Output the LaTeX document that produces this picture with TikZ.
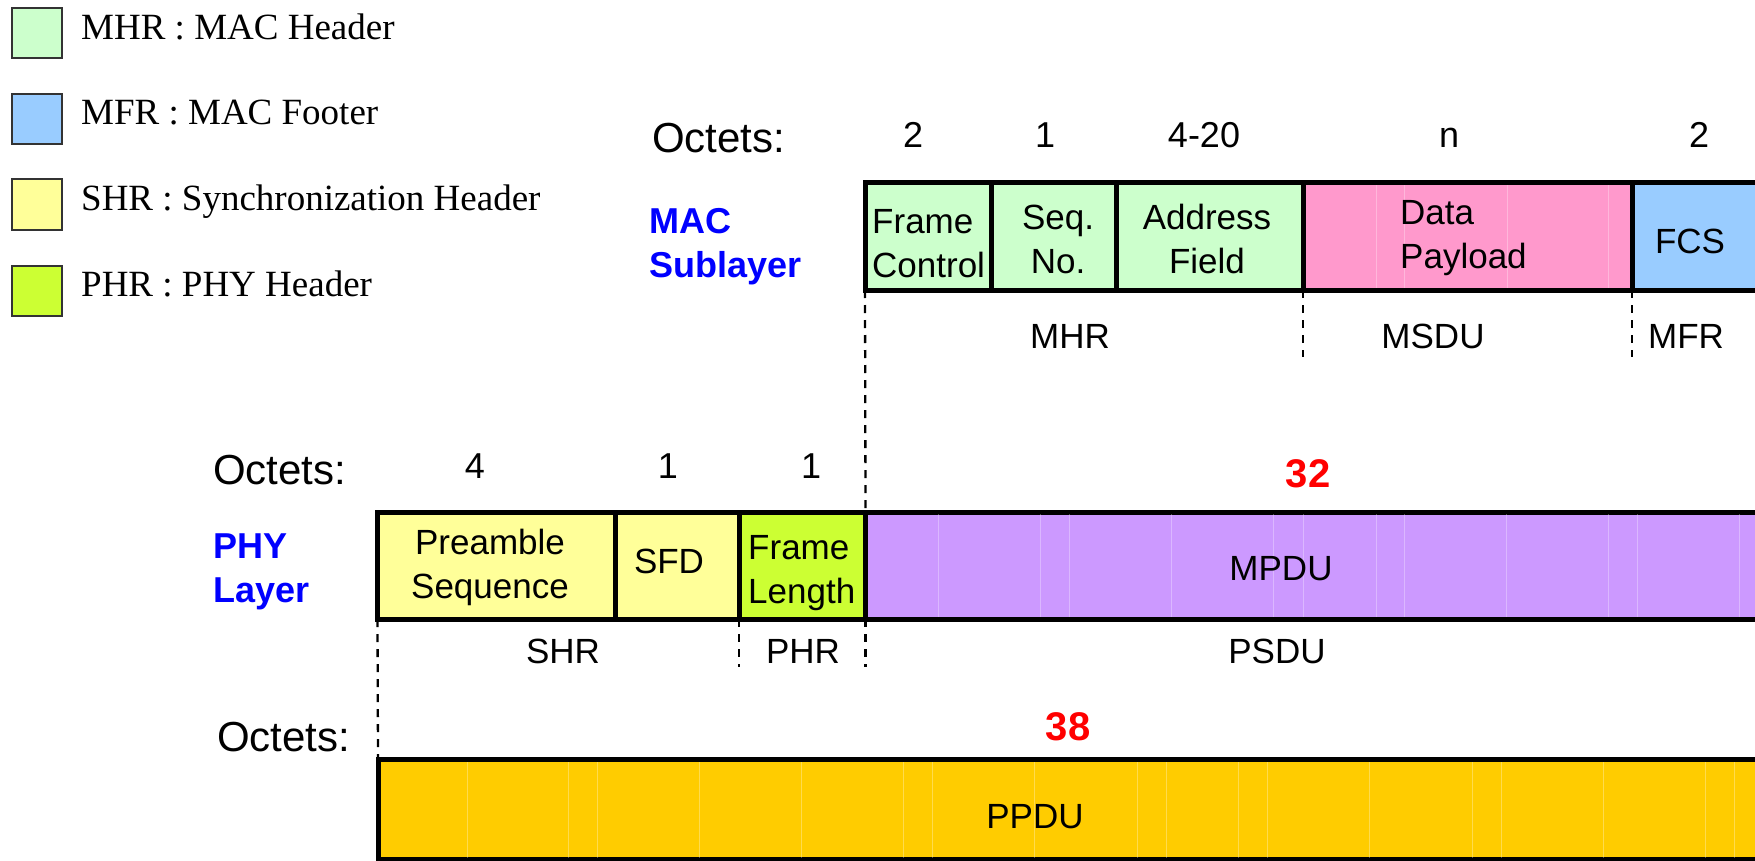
\documentclass[tikz,border=0pt]{standalone}
\usepackage{fontspec}
\setmainfont{Liberation Serif}
\newfontfamily\arial{Liberation Sans}
\definecolor{mhrC}{HTML}{CCFFCC}
\definecolor{mfrC}{HTML}{99CCFF}
\definecolor{shrC}{HTML}{FFFF99}
\definecolor{phrC}{HTML}{CCFF33}
\definecolor{payC}{HTML}{FF99CC}
\definecolor{mpduC}{HTML}{CC99FF}
\definecolor{ppduC}{HTML}{FFCC00}
\definecolor{layerC}{HTML}{0000FF}
\definecolor{sizeC}{HTML}{FF0000}
\begin{document}
\begin{tikzpicture}[x=1pt,y=-1pt,
  field/.style={draw=black, line width=5pt, inner sep=0pt, outer sep=0pt,
                anchor=north west, minimum height=107pt},
  legbox/.style={draw=black!80, line width=2pt, minimum size=50pt, inner sep=0pt},
  legtxt/.style={font=\fontsize{37}{44}\selectfont, anchor=base west, inner sep=0pt},
  txt/.style={font=\arial\fontsize{35}{44}\selectfont, inner sep=0pt, anchor=base, align=center},
  ltxt/.style={font=\arial\fontsize{35}{44}\selectfont, inner sep=0pt, anchor=base west, align=left},
  octlbl/.style={font=\arial\fontsize{42}{48}\selectfont, inner sep=0pt, anchor=base west},
  octnum/.style={font=\arial\fontsize{36}{44}\selectfont, inner sep=0pt, anchor=base},
  total/.style={font=\arial\bfseries\fontsize{40}{48}\selectfont, text=sizeC, inner sep=0pt, anchor=base},
  layer/.style={font=\arial\bfseries\fontsize{36}{44}\selectfont, text=layerC, inner sep=0pt,
                anchor=base west, align=left},
  cut/.style={draw=black, line width=2.3pt, dash pattern=on 8pt off 7pt},
  grain/.style={draw=white, line width=1pt, opacity=0.3}]

\useasboundingbox (0,0) rectangle (1755,861);
\clip (0,0) rectangle (1755,861);

% legend
\node[legbox, fill=mhrC] (lgA) at (37,33.5) {};
\node[legbox, fill=mfrC] (lgB) at (37,119) {};
\node[legbox, fill=shrC] (lgC) at (37,204.5) {};
\node[legbox, fill=phrC] (lgD) at (37,290.5) {};
\node[legtxt] (lgAt) at (81,39.3) {MHR : MAC Header};
\node[legtxt] (lgBt) at (81,125) {MFR : MAC Footer};
\node[legtxt] (lgCt) at (81,210.7) {SHR : Synchronization Header};
\node[legtxt] (lgDt) at (81,296.4) {PHR : PHY Header};

% MAC frame fields
\node[field, fill=mhrC, minimum width=126.5pt] (fc)   at (865,183)    {};
\node[field, fill=mhrC, minimum width=124.5pt] (seq)  at (991.5,183)  {};
\node[field, fill=mhrC, minimum width=187pt]   (addr) at (1116,183)   {};
\node[field, fill=payC, minimum width=329pt]   (pay)  at (1303,183)   {};
\node[field, fill=mfrC, minimum width=143pt]   (fcs)  at (1632,183)   {};

% PHY frame fields
\node[field, fill=shrC,  minimum width=237.5pt] (pre)  at (377.5,512) {};
\node[field, fill=shrC,  minimum width=124pt]   (sfd)  at (615,512)   {};
\node[field, fill=phrC,  minimum width=126.5pt] (flen) at (739,512)   {};
\node[field, fill=mpduC, minimum width=909.5pt] (mpdu) at (865.5,512) {};

% PPDU
\node[field, fill=ppduC, minimum width=1397pt, minimum height=100pt] (ppdu) at (378,759.5) {};

% faint grain of the fills
\begin{scope}
  \clip ([shift={(2.5,2.5)}]pay.north west) rectangle ([shift={(-2.5,-2.5)}]pay.south east);
  \foreach \x in {1376,1404,1507,1608} \draw[grain] (\x,183) -- (\x,290);
\end{scope}
\begin{scope}
  \clip ([shift={(2.5,2.5)}]mpdu.north west) rectangle ([shift={(-2.5,-2.5)}]mpdu.south east);
  \foreach \x in {938,1040,1069,1171,1273,1303,1376,1404,1506,1608,1637,1739}
    \draw[grain] (\x,512) -- (\x,619);
\end{scope}
\begin{scope}
  \clip ([shift={(2.5,2.5)}]ppdu.north west) rectangle ([shift={(-2.5,-2.5)}]ppdu.south east);
  \foreach \x in {467,568,597,699,801,903,932,1034,1137,1166,1238,1267,1369,1472,1501,1603,1705,1734}
    \draw[grain] (\x,759) -- (\x,860);
\end{scope}

% MAC field texts (anchored at the baseline of the last line)
\node[ltxt] (fcT)   at (872,277)  {Frame\\Control};
\node[txt]  (seqT)  at (1058,273) {Seq.\\No.};
\node[txt]  (addrT) at (1207,273) {Address\\Field};
\node[ltxt] (payT)  at (1400,268) {Data\\Payload};
\node[txt]  (fcsT)  at (1690,253) {FCS};

% PHY field texts
\node[txt]  (preT)  at (490,598)  {Preamble\\Sequence};
\node[txt]  (sfdT)  at (669,573)  {SFD};
\node[ltxt] (flenT) at (748,603)  {Frame\\Length};
\node[txt]  (mpduT) at (1281,580) {MPDU};
\node[txt]  (ppduT) at (1035,828) {PPDU};

% group names under the rows
\node[txt] (mhrG)  at (1070,348) {MHR};
\node[txt] (msduG) at (1433,348) {MSDU};
\node[txt] (mfrG)  at (1686,348) {MFR};
\node[txt] (shrG)  at (563,663)  {SHR};
\node[txt] (phrG)  at (803,663)  {PHR};
\node[txt] (psduG) at (1277,663) {PSDU};

% layer names
\node[layer] (macL) at (649,277) {MAC\\Sublayer};
\node[layer] (phyL) at (213,602) {PHY\\Layer};

% octet counts
\node[octlbl] (octA) at (652,153) {Octets:};
\node[octnum] (nFc)   at (913,148)  {2};
\node[octnum] (nSeq)  at (1045,148) {1};
\node[octnum] (nAddr) at (1204,148) {4-20};
\node[octnum] (nPay)  at (1449,148) {n};
\node[octnum] (nFcs)  at (1699,148) {2};

\node[octlbl] (octB) at (213,484) {Octets:};
\node[octnum] (nPre)  at (475,478) {4};
\node[octnum] (nSfd)  at (668,478) {1};
\node[octnum] (nFlen) at (811,478) {1};
\node[total]  (nMpdu) at (1308,487) {32};

\node[octlbl] (octC) at (217,751) {Octets:};
\node[total]  (nPpdu) at (1068,740) {38};

% boundary markers
\coordinate (macDrop) at (0,357);
\coordinate (phyDrop) at (0,667);
\draw[cut] (fc.south west) -- (mpdu.north west);
\draw[cut] (pay.south west) -- (pay.south west |- macDrop);
\draw[cut] (fcs.south west) -- (fcs.south west |- macDrop);
\draw[cut] (pre.south west) -- (ppdu.north west);
\draw[cut] (flen.south west) -- (flen.south west |- phyDrop);
\draw[cut] (mpdu.south west) -- (mpdu.south west |- phyDrop);
\end{tikzpicture}
\end{document}
